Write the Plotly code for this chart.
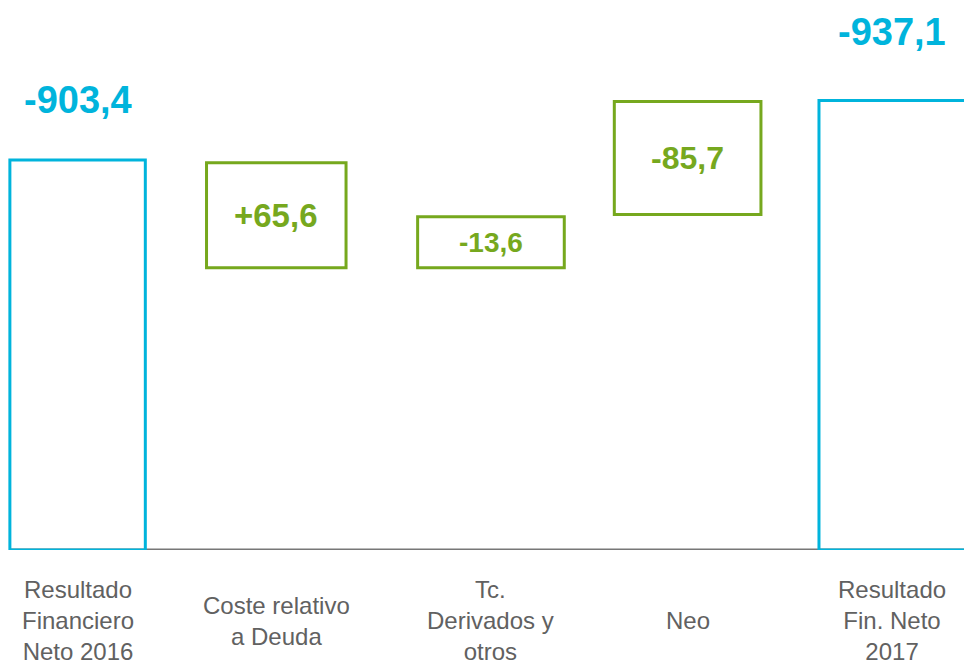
import plotly.graph_objects as go

# ---- data ----
categories = ["Resultado<br>Financiero<br>Neto 2016", "Coste relativo<br>a Deuda",
              "Tc.<br>Derivados y<br>otros", "Neo", "Resultado<br>Fin. Neto<br>2017"]
value_labels = ["-903,4", "+65,6", "-13,6", "-85,7", "-937,1"]
# drawn extents of each box (chart units, as drawn in the stylised picture)
bar_base = [0, 654, 654, 777, 0]
bar_top = [903.4, 897, 772, 1039, 1041]
kinds = ["total", "delta", "delta", "delta", "total"]

BLUE = "#00B4DC"
GREEN = "#76A81E"
GREY_TXT = "#616161"

X0, X1 = -0.381, 4.352
PX_PER_UNIT = 964 / (X1 - X0)

x_idx = list(range(len(categories)))
heights = [t - b for t, b in zip(bar_top, bar_base)]
colors = [BLUE if k == "total" else GREEN for k in kinds]
widths = [0.665, 0.685, 0.72, 0.72, 0.72]
nudge_px = [0, -5, 6, -1, 0]          # small horizontal layout nudges
offsets = [-w / 2 + n / PX_PER_UNIT for w, n in zip(widths, nudge_px)]

fig = go.Figure()
fig.add_trace(go.Bar(
    x=x_idx, y=heights, base=bar_base, width=widths, offset=offsets,
    marker=dict(color="rgba(0,0,0,0)", line=dict(color=colors, width=3)),
    hoverinfo="skip", showlegend=False,
))

annotations = []
outer_font = 38
inner_fonts = {1: 33, 2: 28, 3: 32}
outer_shift = {0: 60, 4: 69}
for i, (lab, k) in enumerate(zip(value_labels, kinds)):
    if k == "total":
        annotations.append(dict(
            x=i, y=bar_top[i], xref="x", yref="y", text="<b>%s</b>" % lab, showarrow=False,
            yanchor="middle", yshift=outer_shift[i], xshift=nudge_px[i],
            font=dict(family="Liberation Sans, Arial", size=outer_font, color=BLUE),
        ))
    else:
        annotations.append(dict(
            x=i, y=(bar_top[i] + bar_base[i]) / 2, xref="x", yref="y", text="<b>%s</b>" % lab,
            showarrow=False, yanchor="middle", xshift=nudge_px[i],
            font=dict(family="Liberation Sans, Arial", size=inner_fonts[i], color=GREEN),
        ))

# category labels, vertically centred under each bar
for i, c in enumerate(categories):
    annotations.append(dict(
        x=i, y=-0.129, xref="x", yref="paper", text=c, showarrow=False,
        yanchor="middle", align="center", xshift=nudge_px[i],
        font=dict(family="Liberation Sans, Arial", size=24, color=GREY_TXT),
    ))

fig.update_layout(
    width=964, height=664,
    margin=dict(l=0, r=0, t=0, b=114),
    paper_bgcolor="white", plot_bgcolor="white",
    xaxis=dict(range=[X0, X1], showticklabels=False, showgrid=False,
               zeroline=False, showline=False, ticks=""),
    yaxis=dict(range=[0, 1274], visible=False, showgrid=False, zeroline=False),
    annotations=annotations,
    shapes=[dict(type="line", xref="x", yref="y", x0=-0.33, x1=X1, y0=0, y1=0,
                 line=dict(color="#777777", width=3), layer="below")],
)

fig.write_html("out.html", config={"displayModeBar": False},
               post_script="document.body.style.margin='0px';document.body.style.overflow='hidden';")
